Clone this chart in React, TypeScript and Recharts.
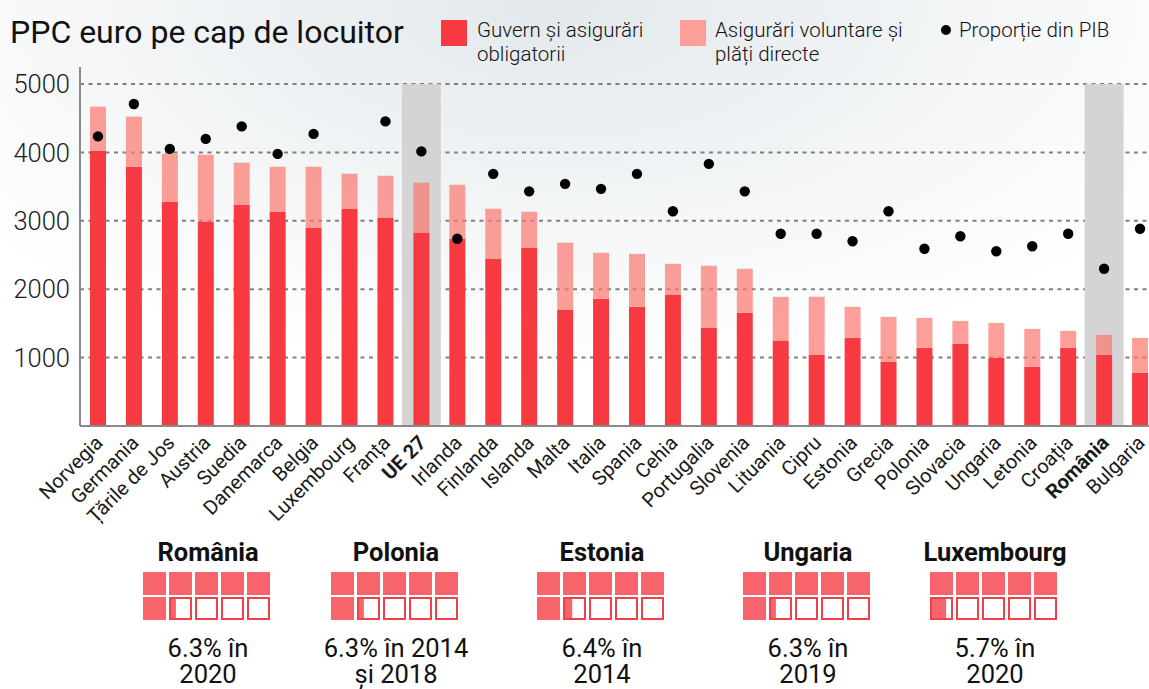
import {
  Bar,
  CartesianGrid,
  ComposedChart,
  ReferenceArea,
  Scatter,
  XAxis,
  YAxis,
} from "recharts";

const countries = [
  "Norvegia", "Germania", "Țările de Jos", "Austria", "Suedia", "Danemarca",
  "Belgia", "Luxembourg", "Franța", "UE 27", "Irlanda", "Finlanda", "Islanda",
  "Malta", "Italia", "Spania", "Cehia", "Portugalia", "Slovenia", "Lituania",
  "Cipru", "Estonia", "Grecia", "Polonia", "Slovacia", "Ungaria", "Letonia",
  "Croația", "România", "Bulgaria",
];

// PPC euro / locuitor
const govSpend = [
  4026, 3792, 3280, 2987, 3236, 3133, 2899, 3177, 3045, 2826, 2738, 2445, 2606,
  1698, 1859, 1742, 1918, 1435, 1654, 1245, 1040, 1288, 937, 1142, 1201, 996,
  864, 1142, 1040, 776,
];
const voluntarySpend = [
  644, 732, 702, 981, 615, 659, 893, 513, 615, 732, 791, 732, 527, 981, 674,
  776, 454, 908, 645, 644, 849, 454, 659, 439, 336, 512, 556, 249, 292, 512,
];
// % din PIB (Luxembourg fără valoare)
const gdpShare = [
  11.6, 12.9, 11.1, 11.5, 12.0, 10.9, 11.7, null, 12.2, 11.0, 7.5, 10.1, 9.4,
  9.7, 9.5, 10.1, 8.6, 10.5, 9.4, 7.7, 7.7, 7.4, 8.6, 7.1, 7.6, 7.0, 7.2, 7.7,
  6.3, 7.9,
];

const highlighted = ["UE 27", "România"];
const yTicks = [1000, 2000, 3000, 4000, 5000];

const waffleCountries = ["România", "Polonia", "Estonia", "Ungaria", "Luxembourg"];
const waffleValues = [6.3, 6.3, 6.4, 6.3, 5.7];
const waffleCaptions = [
  ["6.3% în", "2020"],
  ["6.3% în 2014", "și 2018"],
  ["6.4% în", "2014"],
  ["6.3% în", "2019"],
  ["5.7% în", "2020"],
];
const waffleCenters = [208, 396, 602, 808, 995];

const data = countries.map((name, i) => ({
  name,
  gov: govSpend[i],
  vol: voluntarySpend[i],
  pib: gdpShare[i],
}));

const RED = "#f73a42";
const FONT = "Roboto, 'Noto Sans', sans-serif";

function CountryTick({ x, y, payload }: any) {
  const bold = highlighted.includes(payload.value);
  const tx = x + 6;
  const ty = y + 10;
  return (
    <text
      x={tx}
      y={ty}
      transform={`rotate(-45 ${tx} ${ty})`}
      textAnchor="end"
      fontSize={20}
      fontFamily={FONT}
      fontWeight={bold ? 700 : 400}
      fill="#1a1a1a"
    >
      {payload.value}
    </text>
  );
}

function Dot({ cx, cy, payload }: any) {
  if (payload == null || payload.pib == null) return <g />;
  return <circle cx={cx} cy={cy} r={5.2} fill="#000" />;
}

function Highlight(props: any) {
  const { x, y, width, height } = props;
  return <rect x={x - 1.5} y={y} width={width + 3} height={height} fill="#d4d4d4" />;
}

function Waffle({ idx }: { idx: number }) {
  const value = waffleValues[idx];
  const size = 23;
  const step = 26;
  const cells = [];
  for (let i = 0; i < 10; i++) {
    const row = Math.floor(i / 5);
    const col = i % 5;
    const cx = col * step + 1;
    const cy = row * 25 + 1;
    const fill = Math.max(0, Math.min(1, value - i));
    if (fill >= 1) {
      cells.push(<rect key={i} x={cx} y={cy} width={size} height={size} fill="#f8646c" />);
    } else {
      cells.push(
        <g key={i}>
          <rect x={cx} y={cy} width={size} height={size} fill="#fff" />
          {fill > 0 && <rect x={cx} y={cy} width={size * fill} height={size} fill="#f8646c" />}
          <rect x={cx + 1} y={cy + 1} width={size - 2} height={size - 2} fill="none" stroke="#f0404a" strokeWidth={2} />
        </g>
      );
    }
  }
  const center = waffleCenters[idx];
  return (
    <div style={{ position: "absolute", left: center - 100, top: 539, width: 200, textAlign: "center", color: "#111" }}>
      <div style={{ fontSize: 25.5, fontWeight: 700, lineHeight: "26px", height: 32 }}>{waffleCountries[idx]}</div>
      <svg width={132} height={52} style={{ display: "block", margin: "0 auto" }}>
        {cells}
      </svg>
      <div style={{ position: "absolute", top: 96, left: 0, width: 200, fontSize: 25.5, lineHeight: "26px", fontWeight: 400 }}>
        {waffleCaptions[idx][0]}
        <br />
        {waffleCaptions[idx][1]}
      </div>
    </div>
  );
}

export default function App() {
  return (
    <div
      style={{
        position: "absolute",
        left: 0,
        top: 0,
        width: 1149,
        height: 689,
        overflow: "hidden",
        fontFamily: FONT,
        background: "radial-gradient(ellipse 65% 55% at 48% 0%, #e2e8ec 0%, #f4f6f7 60%, #ffffff 100%)",
      }}
    >
      <div style={{ position: "absolute", left: 10, top: 12, fontSize: 32, lineHeight: "40px", color: "#111" }}>
        PPC euro pe cap de locuitor
      </div>

      <div style={{ position: "absolute", left: 441, top: 20, width: 26, height: 26, background: RED }} />
      <div style={{ position: "absolute", left: 477, top: 18, fontSize: 20.5, lineHeight: "24px", fontWeight: 300, color: "#111" }}>
        Guvern și asigurări
        <br />
        obligatorii
      </div>
      <div style={{ position: "absolute", left: 680, top: 20, width: 26, height: 26, background: "#fc9f98" }} />
      <div style={{ position: "absolute", left: 715, top: 18, fontSize: 20.5, lineHeight: "24px", fontWeight: 300, color: "#111" }}>
        Asigurări voluntare și
        <br />
        plăți directe
      </div>
      <div style={{ position: "absolute", left: 941, top: 25, width: 10, height: 10, borderRadius: 5, background: "#000" }} />
      <div style={{ position: "absolute", left: 959, top: 18, fontSize: 20.5, lineHeight: "24px", fontWeight: 300, color: "#111" }}>
        Proporție din PIB
      </div>

      <div style={{ position: "absolute", left: 0, top: 0 }}>
        <ComposedChart
          width={1160}
          height={540}
          data={data}
          margin={{ top: 67, right: 2, left: 0, bottom: 0 }}
          barSize={16}
        >
          <CartesianGrid
            vertical={false}
            horizontalValues={yTicks}
            stroke="#808080"
            strokeWidth={2}
            strokeDasharray="4 4.5"
            yAxisId="left"
          />
          <ReferenceArea yAxisId="left" x1="UE 27" x2="UE 27" y1={0} y2={5000} shape={Highlight} />
          <ReferenceArea yAxisId="left" x1="România" x2="România" y1={0} y2={5000} shape={Highlight} />
          <XAxis
            dataKey="name"
            interval={0}
            tickLine={false}
            height={114}
            axisLine={{ stroke: "#8a8a8a", strokeWidth: 2 }}
            tick={<CountryTick />}
          />
          <YAxis
            yAxisId="left"
            width={80}
            domain={[0, 5250]}
            ticks={yTicks}
            tickLine={false}
            tickSize={0}
            tickMargin={10}
            axisLine={{ stroke: "#8a8a8a", strokeWidth: 2 }}
            tick={{ fill: "#1a1a1a", fontSize: 25.5, fontWeight: 300, fontFamily: FONT }}
          />
          <YAxis yAxisId="pib" orientation="right" hide domain={[0, 14.38]} />
          <Bar yAxisId="left" dataKey="gov" stackId="a" fill={RED} isAnimationActive={false} />
          <Bar yAxisId="left" dataKey="vol" stackId="a" fill="#fb7a71" fillOpacity={0.72} isAnimationActive={false} />
          <Scatter yAxisId="pib" dataKey="pib" shape={Dot} isAnimationActive={false} />
        </ComposedChart>
      </div>

      {waffleCountries.map((_, i) => (
        <Waffle key={i} idx={i} />
      ))}
    </div>
  );
}
